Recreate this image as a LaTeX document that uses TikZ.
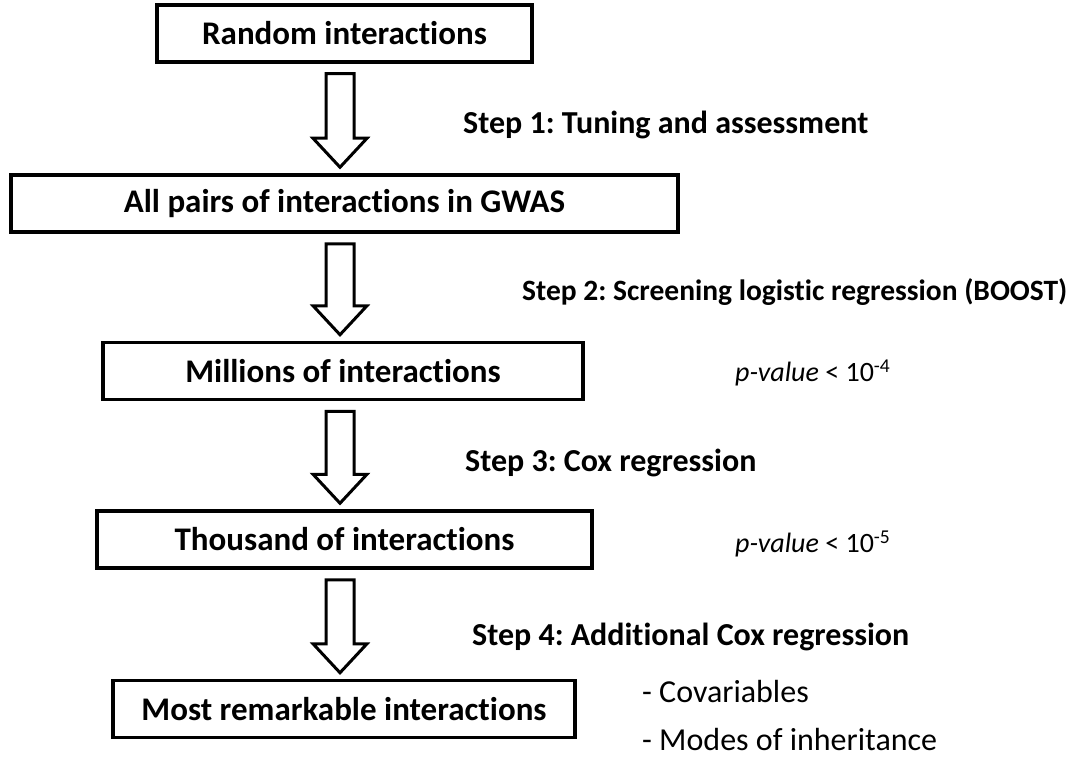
\documentclass[tikz,border=0pt]{standalone}
\usepackage{fontspec}
\setmainfont{Carlito}[Ligatures=NoCommon]
\usetikzlibrary{calc}
\tikzset{
  box/.style={draw=black, line width=3.5pt, inner sep=0pt, minimum height=57pt, font=\fontsize{33}{40}\selectfont\bfseries},
  steplabel/.style={anchor=west, inner sep=0pt, font=\fontsize{32}{38}\selectfont\bfseries},
  note/.style={anchor=west, inner sep=0pt, font=\fontsize{32}{38}\selectfont},
  blockarrow/.style={draw=black, line width=3pt, fill=white, line join=miter}
}
\newcommand{\bigarrow}[2]{%
  \path (#1.south -| ax) ++(0,10) coordinate (t)
        (#2.north -| ax) ++(0,-6) coordinate (b);
  \draw[blockarrow] ($(t)+(-14,0)$) -- ($(b)+(-14,-29)$) -- ($(b)+(-27,-29)$) -- (b)
     -- ($(b)+(27,-29)$) -- ($(b)+(14,-29)$) -- ($(t)+(14,0)$) -- cycle;}
\begin{document}
\frenchspacing
\begin{tikzpicture}[x=1pt, y=-1pt]
\useasboundingbox (0,0) rectangle (1080,757);
\coordinate (ax) at (340,0);
\node[box, minimum width=375pt] (b1) at (344.5,33.5) {Random interactions};
\node[box, minimum width=667pt] (b2) at (344.5,203.5) {All pairs of interactions in GWAS};
\node[box, minimum width=480pt] (b3) at (343,371) {Millions of interactions};
\node[box, minimum width=495pt] (b4) at (344.5,539.5) {Thousand of interactions};
\node[box, minimum width=462pt] (b5) at (344,709) {Most remarkable interactions};
\bigarrow{b1}{b2}
\bigarrow{b2}{b3}
\bigarrow{b3}{b4}
\bigarrow{b4}{b5}
\node[steplabel] (s1) at (463,125) {Step 1: Tuning and assessment};
\node[steplabel, font=\fontsize{29.5}{36}\selectfont\bfseries] (s2) at (522,292) {Step 2: Screening logistic regression (BOOST)};
\node[steplabel] (s3) at (465,463) {Step 3: Cox regression};
\node[steplabel] (s4) at (472,637) {Step 4: Additional Cox regression};
\node[note, font=\fontsize{28}{34}\selectfont] (p1) at (735,373) {\textit{p-value} < 10\textsuperscript{-4}};
\node[note, font=\fontsize{28}{34}\selectfont] (p2) at (735,544) {\textit{p-value} < 10\textsuperscript{-5}};
\node[note] (c1) at (642,692) {- Covariables};
\node[note] (c2) at (642,740) {- Modes of inheritance};
\end{tikzpicture}
\end{document}
